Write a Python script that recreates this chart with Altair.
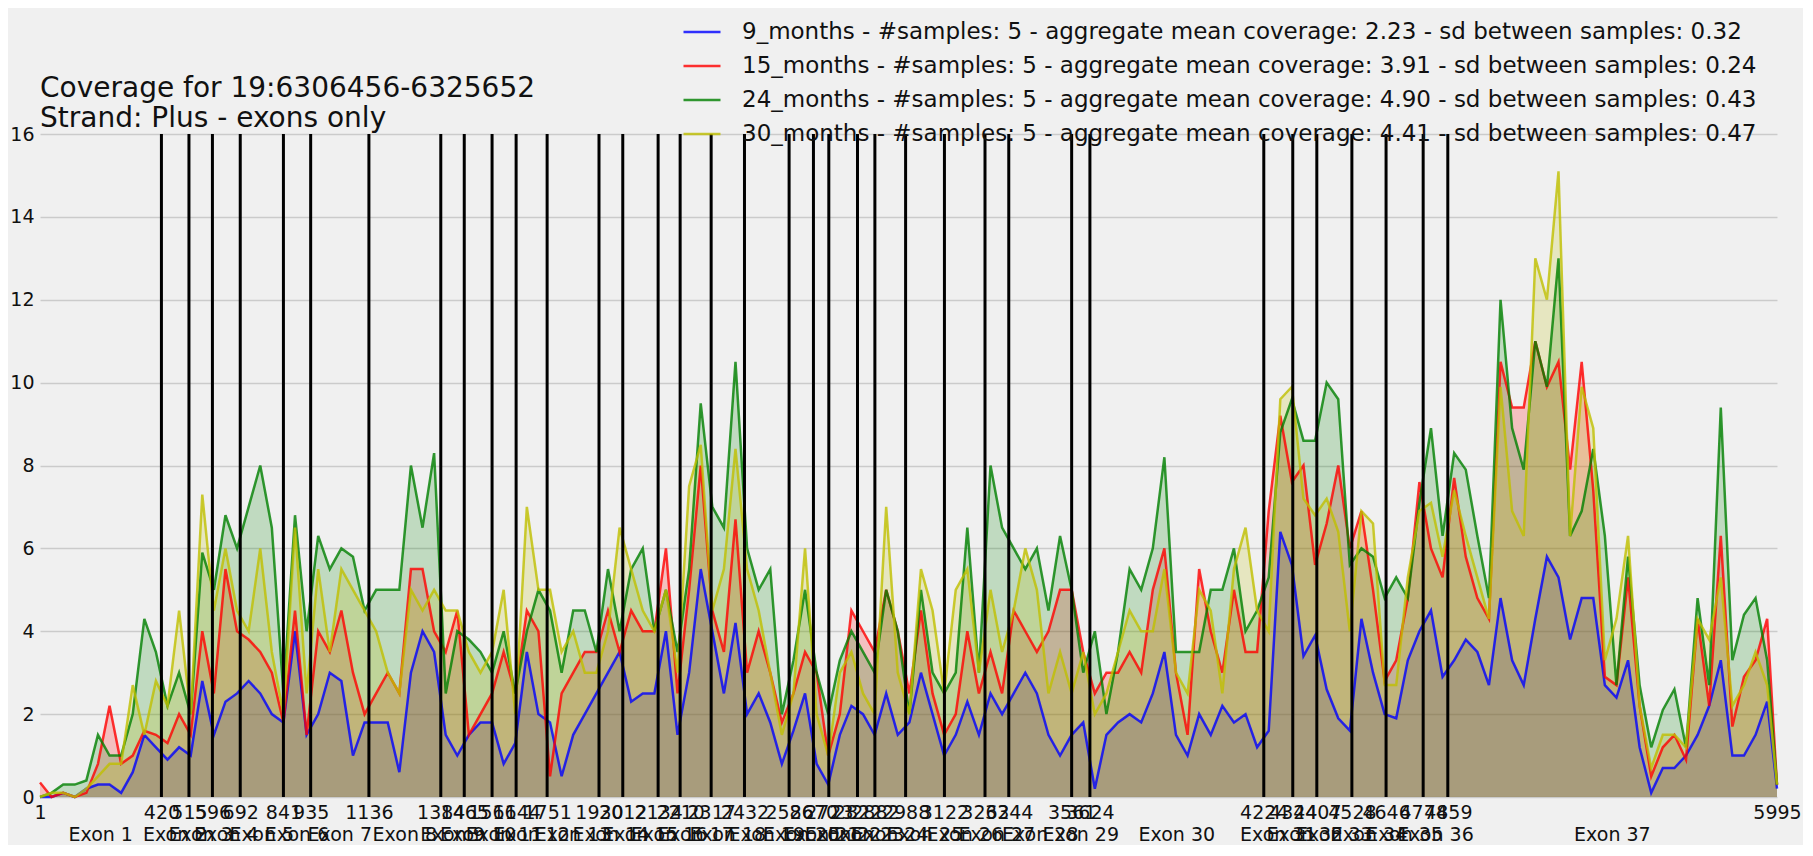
import altair as alt
import pandas as pd

# sample positions (bases along the concatenated exons)
positions = list(range(1, 5962, 40)) + [5995]

cov_9 = [0, 0, 0.1, 0, 0.2, 0.3, 0.3, 0.1, 0.6, 1.5, 1.2,
         0.9, 1.2, 1.0, 2.8, 1.5, 2.3, 2.5, 2.8, 2.5, 2.0,
         1.8, 4.0, 1.5, 2.0, 3.0, 2.8, 1.0, 1.8, 1.8, 1.8,
         0.6, 3.0, 4.0, 3.5, 1.5, 1.0, 1.5, 1.8,
         1.8, 0.8, 1.3, 3.5, 2.0, 1.8, 0.5, 1.5, 2.0, 2.5,
         3.0, 3.5, 2.3, 2.5, 2.5, 4.0, 1.5, 3.0, 5.5, 4.0,
         2.5, 4.2, 2.0, 2.5, 1.8, 0.8, 1.6, 2.5, 0.8, 0.3,
         1.5, 2.2, 2.0, 1.5, 2.5, 1.5, 1.8,
         3.0, 2.0, 1.0, 1.5, 2.3, 1.5, 2.5, 2.0, 2.5, 3.0,
         2.5, 1.5, 1.0, 1.5, 1.8, 0.2, 1.5, 1.8, 2.0, 1.8,
         2.5, 3.5, 1.5, 1.0, 2.0, 1.5, 2.2, 1.8, 2.0, 1.2,
         1.6, 6.4, 5.6, 3.4, 3.9, 2.6, 1.9, 1.6,
         4.3, 3.0, 2.0, 1.9, 3.3, 4.0, 4.5, 2.9, 3.3, 3.8,
         3.5, 2.7, 4.8, 3.3, 2.7, 4.3, 5.8, 5.3, 3.8, 4.8,
         4.8, 2.7, 2.4, 3.3, 1.2, 0.1, 0.7, 0.7, 1.0, 1.5,
         2.2, 3.3, 1.0, 1.0, 1.5, 2.3, 0.2]

cov_15 = [0.35, 0, 0.1, 0, 0.1, 0.8, 2.2, 0.8, 1.0, 1.6, 1.5,
          1.3, 2.0, 1.5, 4.0, 2.5, 5.5, 4.0, 3.8, 3.5, 3.0,
          1.8, 4.5, 1.5, 4.0, 3.5, 4.5, 3.0, 2.0, 2.5, 3.0,
          2.5, 5.5, 5.5, 4.0, 3.5, 4.5, 1.5, 2.0,
          2.5, 3.5, 2.5, 4.5, 4.0, 0.5, 2.5, 3.0, 3.5, 3.5,
          4.5, 3.5, 4.5, 4.0, 4.0, 6.0, 2.5, 5.0, 8.0, 4.5,
          3.5, 6.7, 3.0, 4.0, 3.0, 1.8, 2.5, 3.5, 3.0, 1.0,
          2.0, 4.5, 4.0, 3.5, 5.0, 4.0, 2.5,
          4.5, 2.5, 1.5, 2.0, 4.0, 2.5, 3.5, 2.5, 4.5, 4.0,
          3.5, 4.0, 5.0, 5.0, 3.5, 2.5, 3.0, 3.0, 3.5, 3.0,
          5.0, 6.0, 3.0, 1.5, 5.5, 4.0, 3.0, 5.0, 3.5, 3.5,
          6.9, 9.2, 7.6, 8.0, 5.6, 6.6, 8.0, 6.0,
          6.9, 5.0, 2.8, 3.3, 4.8, 7.6, 6.0, 5.3, 7.7, 5.8,
          4.8, 4.3, 10.5, 9.4, 9.4, 11.0, 9.9, 10.5, 7.9, 10.5,
          7.4, 2.9, 2.7, 5.3, 2.2, 0.5, 1.2, 1.5, 0.9, 4.3,
          2.2, 6.3, 1.7, 2.9, 3.3, 4.3, 0.3]

cov_24 = [0, 0.1, 0.3, 0.3, 0.4, 1.5, 1.0, 1.0, 2.0, 4.3, 3.5,
          2.2, 3.0, 2.0, 5.9, 5.0, 6.8, 6.0, 7.0, 8.0, 6.5,
          2.5, 6.8, 4.0, 6.3, 5.5, 6.0, 5.8, 4.5, 5.0, 5.0,
          5.0, 8.0, 6.5, 8.3, 2.5, 4.0, 3.8, 3.5,
          3.0, 4.0, 2.5, 4.0, 5.0, 4.5, 3.0, 4.5, 4.5, 3.5,
          5.5, 4.0, 5.5, 6.0, 4.0, 5.0, 3.5, 5.5, 9.5, 7.0,
          6.5, 10.5, 6.0, 5.0, 5.5, 2.0, 3.3, 5.0, 3.0, 2.0,
          3.3, 4.0, 3.5, 3.0, 5.0, 4.0, 2.0,
          5.0, 3.0, 2.5, 3.0, 6.5, 3.0, 8.0, 6.5, 6.0, 5.5,
          6.0, 4.5, 6.3, 5.0, 3.0, 4.0, 2.0, 3.5, 5.5, 5.0,
          6.0, 8.2, 3.5, 3.5, 3.5, 5.0, 5.0, 6.0, 4.0, 4.5,
          5.3, 8.8, 9.6, 8.6, 8.6, 10.0, 9.6, 5.6,
          6.0, 5.8, 4.8, 5.3, 4.8, 7.1, 8.9, 6.3, 8.3, 7.9,
          6.3, 4.8, 12.0, 8.9, 7.9, 11.0, 9.9, 13.0, 6.3, 6.9,
          8.4, 6.3, 2.7, 5.8, 2.7, 1.2, 2.1, 2.6, 1.2, 4.8,
          2.7, 9.4, 3.3, 4.4, 4.8, 3.3, 0.3]

cov_30 = [0, 0.1, 0.1, 0, 0.2, 0.5, 0.8, 0.8, 2.7, 1.5, 2.8,
          2.2, 4.5, 2.0, 7.3, 4.5, 6.0, 4.5, 4.0, 6.0, 3.5,
          2.0, 6.5, 2.5, 5.5, 3.5, 5.5, 5.0, 4.5, 4.0, 3.0,
          2.5, 5.0, 4.5, 5.0, 4.5, 4.5, 3.5, 3.0,
          3.5, 5.0, 2.0, 7.0, 5.0, 5.0, 3.5, 4.0, 3.0, 3.0,
          4.0, 6.5, 5.5, 4.5, 4.0, 5.0, 3.0, 7.5, 8.5, 4.5,
          5.5, 8.4, 5.5, 4.5, 3.0, 1.5, 2.5, 6.0, 2.0, 1.0,
          3.0, 3.5, 2.5, 2.0, 7.0, 3.0, 2.0,
          5.5, 4.5, 2.5, 5.0, 5.5, 3.0, 5.0, 3.5, 4.5, 6.0,
          5.0, 2.5, 3.5, 2.5, 3.5, 2.0, 2.5, 3.5, 4.5, 4.0,
          4.0, 5.5, 3.0, 2.5, 5.0, 4.5, 2.5, 5.5, 6.5, 4.5,
          4.0, 9.6, 9.9, 7.2, 6.8, 7.2, 6.4, 4.0,
          6.9, 6.6, 2.7, 2.7, 5.3, 6.9, 7.1, 5.8, 7.4, 6.3,
          5.3, 4.3, 9.9, 6.9, 6.3, 13.0, 12.0, 15.1, 6.3, 9.9,
          8.9, 3.3, 4.3, 6.3, 2.2, 0.7, 1.5, 1.5, 1.2, 4.3,
          3.8, 5.3, 2.2, 2.7, 3.5, 2.7, 0.3]

series_labels = [
    "9_months - #samples: 5 - aggregate mean coverage: 2.23 - sd between samples: 0.32",
    "15_months - #samples: 5 - aggregate mean coverage: 3.91 - sd between samples: 0.24",
    "24_months - #samples: 5 - aggregate mean coverage: 4.90 - sd between samples: 0.43",
    "30_months - #samples: 5 - aggregate mean coverage: 4.41 - sd between samples: 0.47",
]
series_colors = ["#0000ff", "#ff0000", "#008000", "#bfbf00"]

boundaries = [1, 420, 515, 596, 692, 841, 935, 1136, 1384, 1465, 1561, 1644, 1751,
              1930, 2012, 2134, 2210, 2317, 2432, 2586, 2670, 2723, 2822, 2882,
              2988, 3122, 3262, 3344, 3561, 3624, 4224, 4324, 4407, 4528, 4646,
              4774, 4859, 5995]
exon_names = ["Exon %d" % i for i in range(1, 38)]

title_line_1 = "Coverage for 19:6306456-6325652"
title_line_2 = "Strand: Plus - exons only"

all_series = [cov_9, cov_15, cov_24, cov_30]
for s in all_series:
    assert len(s) == len(positions), len(s)

rows = []
for lab, vals in zip(series_labels, all_series):
    for p, v in zip(positions, vals):
        rows.append({"pos": p, "value": v, "series": lab})
cov_df = pd.DataFrame(rows)

rule_df = pd.DataFrame({"b": boundaries[1:-1]})
exon_df = pd.DataFrame({
    "mid": [(boundaries[i] + boundaries[i + 1]) / 2 for i in range(len(exon_names))],
    "name": exon_names,
})

FONT = "DejaVu Sans"
W, H = 1737, 663

x_scale = alt.Scale(domain=[1, 5995], nice=False, zero=False)
x_axis = alt.Axis(values=boundaries, format="d", title=None, grid=False, ticks=False,
                  domain=False, labelOverlap=False, labelFlush=False, labelFontSize=19,
                  labelFont=FONT, labelColor="#111", labelPadding=6)
y_scale = alt.Scale(domain=[0, 16], nice=False, zero=True)
y_axis = alt.Axis(values=list(range(0, 17, 2)), title=None, ticks=False, domain=False,
                  grid=True, gridColor="#cbcbcb", gridWidth=1.3, labelOverlap=False,
                  labelFontSize=19, labelFont=FONT, labelColor="#111", labelPadding=6)
color_scale = alt.Scale(domain=series_labels, range=series_colors)

areas = alt.Chart(cov_df).mark_area(interpolate="linear", opacity=0.2).encode(
    x=alt.X("pos:Q", scale=x_scale, axis=x_axis),
    y=alt.Y("value:Q", scale=y_scale, axis=y_axis, stack=None),
    color=alt.Color("series:N", scale=color_scale, legend=None),
)

lines = alt.Chart(cov_df).mark_line(interpolate="linear", strokeWidth=2.5, opacity=0.8).encode(
    x=alt.X("pos:Q", scale=x_scale, axis=x_axis),
    y=alt.Y("value:Q", scale=y_scale, axis=y_axis, stack=None),
    color=alt.Color("series:N", scale=color_scale, legend=alt.Legend(
        orient="none", legendX=642, legendY=-122, title=None, symbolType="stroke",
        symbolSize=1369, symbolStrokeWidth=2.5, symbolOpacity=0.8, labelFontSize=23,
        labelFont=FONT, labelColor="#111", rowPadding=2, labelOffset=20, padding=0,
        labelLimit=1500)),
)

rules = alt.Chart(rule_df).mark_rule(color="black", strokeWidth=3).encode(
    x=alt.X("b:Q", scale=x_scale, axis=x_axis),
)

exon_text = alt.Chart(exon_df).mark_text(fontSize=19, font=FONT, color="#111",
                                         align="center", baseline="middle").encode(
    x=alt.X("mid:Q", scale=x_scale, axis=x_axis),
    y=alt.value(H + 38),
    text="name:N",
)

title_1 = alt.Chart(pd.DataFrame({"t": [title_line_1]})).mark_text(
    fontSize=28, font=FONT, color="#111", align="left", baseline="alphabetic").encode(
    x=alt.value(0), y=alt.value(-37), text="t:N")
title_2 = alt.Chart(pd.DataFrame({"t": [title_line_2]})).mark_text(
    fontSize=28, font=FONT, color="#111", align="left", baseline="alphabetic").encode(
    x=alt.value(0), y=alt.value(-7), text="t:N")

chart = alt.layer(areas, lines, rules, exon_text, title_1, title_2).resolve_legend(
    color="independent").properties(
    width=W, height=H,
    padding={"left": 32, "top": 126, "right": 26, "bottom": 48},
    autosize=alt.AutoSizeParams(type="none"),
    background="#f0f0f0",
).configure_view(stroke=None)

chart.save("out.html", embed_options={"renderer": "svg", "actions": False})
